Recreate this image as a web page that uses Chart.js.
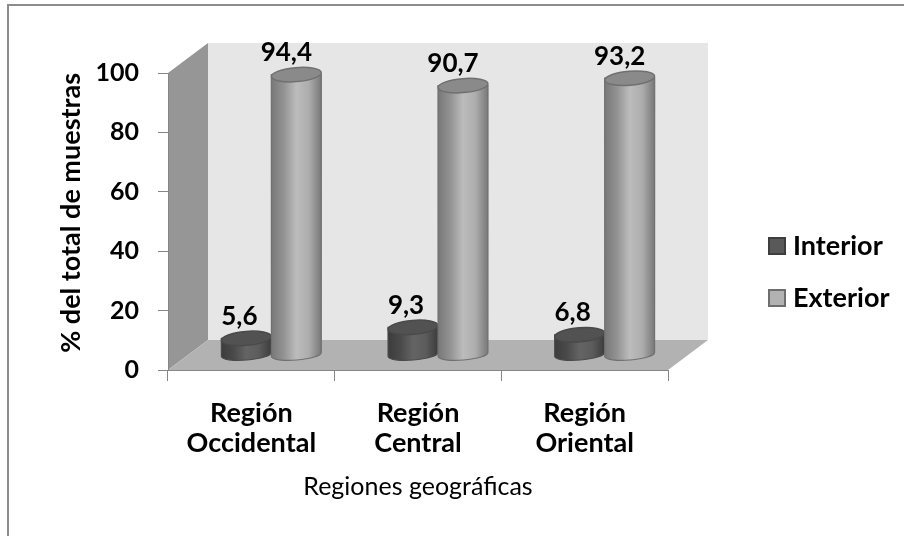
<!DOCTYPE html>
<html>
<head>
<meta charset="utf-8">
<script src="https://cdn.jsdelivr.net/npm/chart.js@4"></script>
<style>
  html, body { margin: 0; padding: 0; background: #fff; overflow: hidden; }
  #wrap { position: relative; width: 904px; height: 536px; overflow: hidden; }
  #frame { position: absolute; left: 7px; top: 4px; width: 897px; height: 532px; border-left: 2px solid #8c8c8c; border-top: 2px solid #8c8c8c; box-sizing: border-box; }
  canvas { position: absolute; left: 0; top: 0; }
</style>
</head>
<body>
<div id="wrap">
  <div id="frame"></div>
  <canvas id="myChart" width="904" height="536"></canvas>
</div>
<script>
const categories = [["Región", "Occidental"], ["Región", "Central"], ["Región", "Oriental"]];
const interior = [5.6, 9.3, 6.8];
const exterior = [94.4, 90.7, 93.2];
const yTicks = [0, 20, 40, 60, 80, 100];

const FONT = "Lato, Carlito, sans-serif";
const depthX = 40, depthY = -30;

// body shading per series, edge to edge; labelDx moves the value label off the cylinder axis
const shades = [
  { fill: "#595959", edge: "#3e3e3e", stops: ["#3c3c3c", "#4a4a4a", "#646464", "#5c5c5c", "#3c3c3c"], top: "#525252", line: "#4a4a4a", labelDx: -7 },
  { fill: "#b2b2b2", edge: "#6e6e6e", stops: ["#787878", "#939393", "#bcbcbc", "#adadad", "#787878"], top: "#8a8a8a", line: "#707070", labelDx: -10 },
];

function drawCylinder(ctx, x, top, bottom, halfW, look) {
  const tilt = -0.08;
  const grad = ctx.createLinearGradient(x - halfW, 0, x + halfW, 0);
  look.stops.forEach((c, i) => grad.addColorStop(i / (look.stops.length - 1), c));

  ctx.beginPath();
  ctx.ellipse(x, bottom, halfW, 5.5, tilt, 0, Math.PI);
  ctx.lineTo(x - halfW, top);
  ctx.lineTo(x + halfW, top);
  ctx.closePath();
  ctx.fillStyle = grad;
  ctx.fill();
  ctx.strokeStyle = look.line;
  ctx.lineWidth = 1.2;
  ctx.stroke();

  ctx.beginPath();
  ctx.ellipse(x, top, halfW, 7, tilt, 0, Math.PI * 2);
  ctx.fillStyle = look.top;
  ctx.fill();
  ctx.strokeStyle = look.line;
  ctx.lineWidth = 1.5;
  ctx.stroke();
}

const box3d = {
  id: "box3d",
  beforeDraw(chart) {
    const { ctx } = chart;
    const { left, right, top, bottom } = chart.chartArea;
    const poly = (pts, color) => {
      ctx.beginPath();
      pts.forEach((p, i) => (i ? ctx.lineTo(p[0], p[1]) : ctx.moveTo(p[0], p[1])));
      ctx.closePath();
      ctx.fillStyle = color;
      ctx.fill();
    };
    poly([[left + depthX, top + depthY], [right + depthX, top + depthY], [right + depthX, bottom + depthY], [left + depthX, bottom + depthY]], "#e6e6e6");
    poly([[left, top], [left + depthX, top + depthY], [left + depthX, bottom + depthY], [left, bottom]], "#969696");
    poly([[left, bottom], [left + depthX, bottom + depthY], [right + depthX, bottom + depthY], [right, bottom]], "#b2b2b2");
  },
  beforeDatasetDraw() {
    // the flat bars are replaced by the cylinders below
    return false;
  },
  afterDatasetsDraw(chart) {
    const { ctx } = chart;
    chart.data.datasets.forEach((ds, i) => {
      chart.getDatasetMeta(i).data.forEach((bar) => {
        drawCylinder(ctx, bar.x + depthX / 2, bar.y + depthY / 2, bar.base + depthY / 2, bar.width / 2, shades[i]);
      });
    });

    ctx.fillStyle = "#000";
    ctx.font = "bold 26px " + FONT;
    ctx.textAlign = "center";
    ctx.textBaseline = "alphabetic";
    chart.data.datasets.forEach((ds, i) => {
      chart.getDatasetMeta(i).data.forEach((bar, j) => {
        const label = ds.data[j].toFixed(1).replace(".", ",");
        ctx.fillText(label, bar.x + depthX / 2 + shades[i].labelDx, bar.y + depthY / 2 - 13.5);
      });
    });

    // legend
    ctx.textAlign = "left";
    ctx.textBaseline = "middle";
    ctx.font = "bold 27px " + FONT;
    chart.data.datasets.forEach((ds, i) => {
      const y = 237 + i * 52;
      ctx.fillStyle = ds.backgroundColor;
      ctx.strokeStyle = ds.borderColor;
      ctx.lineWidth = 2;
      ctx.fillRect(769, y + 1, 16, 16);
      ctx.strokeRect(769, y + 1, 16, 16);
      ctx.fillStyle = "#000";
      ctx.fillText(ds.label, 793, y + 9);
    });
  },
};

const ctx = document.getElementById("myChart").getContext("2d");

new Chart(ctx, {
  type: "bar",
  data: {
    labels: categories,
    datasets: [
      { label: "Interior", data: interior, backgroundColor: shades[0].fill, borderColor: shades[0].edge },
      { label: "Exterior", data: exterior, backgroundColor: shades[1].fill, borderColor: shades[1].edge },
    ],
  },
  options: {
    responsive: false,
    animation: false,
    datasets: { bar: { categoryPercentage: 0.6, barPercentage: 1 } },
    layout: { padding: { left: 55, right: 236, top: 73, bottom: 30 } },
    plugins: {
      tooltip: { enabled: false },
      legend: { display: false },
    },
    scales: {
      x: {
        grid: { drawOnChartArea: false, color: "#868686", tickLength: 11, offset: true },
        border: { color: "#868686" },
        ticks: { color: "#000", padding: 17, maxRotation: 0, font: { family: FONT, weight: "bold", size: 27, lineHeight: 1.11 } },
        title: { display: true, text: "Regiones geográficas", color: "#000", padding: { top: 8 }, font: { family: FONT, size: 25 } },
        afterFit(scale) { scale.height = 136; },
      },
      y: {
        min: 0,
        max: 100,
        afterBuildTicks(scale) { scale.ticks = yTicks.map((v) => ({ value: v })); },
        grid: { drawOnChartArea: false, color: "#868686", tickLength: 10 },
        border: { color: "#868686" },
        ticks: { color: "#000", padding: 19, font: { family: FONT, weight: "bold", size: 25 } },
        title: { display: true, text: "% del total de muestras", color: "#000", align: "end", padding: 0, font: { family: FONT, weight: "bold", size: 27 } },
        afterFit(scale) { scale.width = 113; },
      },
    },
  },
  plugins: [box3d],
});
</script>
</body>
</html>
